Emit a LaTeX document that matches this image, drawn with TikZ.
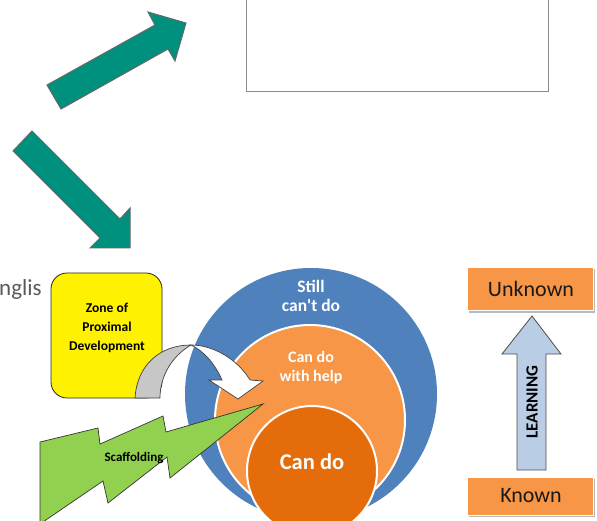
\documentclass[tikz,border=0pt]{standalone}
\usepackage{fontspec}
\setmainfont{Carlito}
\definecolor{teal}{RGB}{0,144,126}
\definecolor{zblue}{RGB}{79,129,189}
\definecolor{zorange}{RGB}{247,150,70}
\definecolor{zdark}{RGB}{228,108,10}
\definecolor{bolt}{RGB}{146,208,80}
\definecolor{lblue}{RGB}{185,205,229}
\definecolor{txtgray}{RGB}{89,89,89}
\begin{document}
\begin{tikzpicture}[x=1pt,y=-1pt,
  bigarrow/.style={fill=teal,draw=black!60,line width=1pt,line join=miter},
  ring/.style={draw=white,line width=2pt},
  whitetext/.style={text=white,font=\bfseries,align=center,inner sep=0pt},
  tagbox/.style={fill=zorange,draw=white,line width=1pt},
  tagshadow/.style={fill=black!28},
  tagtext/.style={text=black!90,inner sep=0pt}]
\useasboundingbox (0,0) rectangle (597,521);
\clip (0,0) rectangle (597,521);

% empty frame at the top
\draw[black!45,line width=1pt,fill=white] (246,-5) rectangle (548,92);

% teal block arrows
\filldraw[bigarrow] (47,85) -- (155,25) -- (148,12) -- (186,23) -- (175,61) -- (168,49) -- (61,109) -- cycle;
\filldraw[bigarrow] (13,151) -- (32,131) -- (120,219) -- (130,208) -- (130,248) -- (90,248) -- (100,238) -- cycle;

% partial heading
\node[anchor=base west,inner sep=0pt,text=txtgray,font=\fontsize{23}{26}\selectfont] (head) at (-1,296) {nglis};

% nested circles
\fill[zblue] (311,394) circle (126);
\filldraw[zorange,ring] (310,420) circle (95);
\filldraw[zdark,ring] (312,471) circle (65);

\node[whitetext,font=\bfseries\fontsize{17.5}{19}\selectfont] (still) at (311,296) {Still\\can\textquotesingle t do};
\node[whitetext,font=\bfseries\fontsize{16}{19}\selectfont] (help) at (311,368) {Can do\\with help};
\node[whitetext,font=\bfseries\fontsize{22.5}{26}\selectfont] (cando) at (312,462) {Can do};

% zone of proximal development
\filldraw[fill=yellow,draw=black!85,line width=0.8pt,rounded corners=16pt] (51,273) rectangle (162,398);
\node[align=center,font=\bfseries\fontsize{13.5}{19}\selectfont,inner sep=0pt] (zpd) at (107,328) {Zone of\\Proximal\\Development};

% curved arrow: grey back and white front
\filldraw[fill=black!22,draw=black!75,line width=0.7pt,line join=round]
  (135,398) .. controls (137,365) and (160,345) .. (191,345)
  .. controls (172,356) and (160,376) .. (160,398) -- cycle;
\filldraw[fill=white,draw=black!75,line width=0.7pt,line join=miter]
  (191,345) .. controls (214,345) and (238,360) .. (250,380)
  -- (263,381) -- (238,399) -- (209,380) -- (222,380)
  .. controls (215,364) and (204,351) .. (191,345) -- cycle;

% scaffolding bolt
\filldraw[fill=bolt,draw=black!80,line width=0.7pt,line join=miter]
  (40,442) -- (98,428) -- (100,444) -- (163,416) -- (166,432) -- (263,404)
  -- (170,478) -- (167,457) -- (108,503) -- (103,481) -- (40,524) -- cycle;
\node[font=\bfseries\fontsize{13}{14}\selectfont,inner sep=0pt] (scaf) at (134,458) {Scaffolding};

% known / unknown scale
\fill[tagshadow] (468.5,269.5) rectangle (595,313);
\filldraw[tagbox] (467,268) rectangle (593,311);
\node[tagtext,font=\fontsize{22}{24}\selectfont] (unknown) at (531,289) {Unknown};
\fill[tagshadow] (468.5,478.5) rectangle (595,517);
\filldraw[tagbox] (467,477) rectangle (593,515);
\node[tagtext,font=\fontsize{22}{24}\selectfont] (known) at (531,496) {Known};

\filldraw[fill=lblue,draw=black!70,line width=0.8pt,line join=miter]
  (517,470) -- (517,354) -- (502,354) -- (532,316) -- (561,354) -- (546,354) -- (546,470) -- cycle;
\node[rotate=90,font=\bfseries\fontsize{17}{18}\selectfont,inner sep=0pt] (learn) at (532,402) {LEARNING};
\end{tikzpicture}
\end{document}
